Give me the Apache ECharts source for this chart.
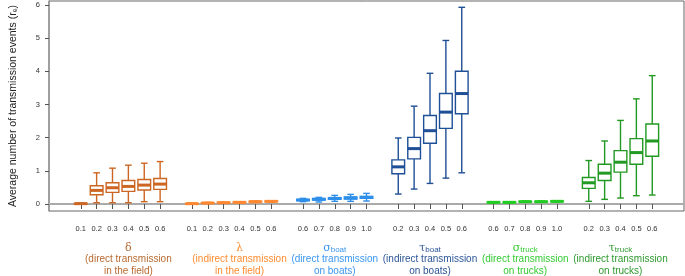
<!DOCTYPE html>
<html>
<head>
<meta charset="utf-8">
<script src="https://cdn.jsdelivr.net/npm/echarts@6/dist/echarts.min.js"></script>
<style>html,body{margin:0;padding:0;background:#fff}#c{width:685px;height:276px}</style>
</head>
<body>
<div id="c"></div>
<script>
// ---- data: [min, q1, median, q3, max] per level ----
const deltaLevels = ['0.1','0.2','0.3','0.4','0.5','0.6'];
const deltaStats = [
  [0.00,0.00,0.01,0.02,0.03],
  [0.04,0.28,0.41,0.55,0.94],
  [0.04,0.35,0.49,0.64,1.08],
  [0.04,0.38,0.53,0.71,1.17],
  [0.07,0.42,0.57,0.74,1.23],
  [0.07,0.44,0.60,0.77,1.28]
];
const lambdaLevels = ['0.1','0.2','0.3','0.4','0.5','0.6'];
const lambdaStats = [
  [0.00,0.00,0.01,0.02,0.03],
  [0.01,0.02,0.03,0.04,0.05],
  [0.02,0.03,0.04,0.05,0.06],
  [0.03,0.04,0.05,0.06,0.07],
  [0.04,0.06,0.07,0.08,0.09],
  [0.05,0.07,0.08,0.09,0.10]
];
const sigmaBoatLevels = ['0.6','0.7','0.8','0.9','1.0'];
const sigmaBoatStats = [
  [0.07,0.10,0.12,0.14,0.17],
  [0.06,0.12,0.14,0.17,0.20],
  [0.08,0.14,0.17,0.19,0.26],
  [0.08,0.15,0.18,0.21,0.29],
  [0.09,0.17,0.20,0.23,0.32]
];
const tauBoatLevels = ['0.2','0.3','0.4','0.5','0.6'];
const tauBoatStats = [
  [0.30,0.91,1.12,1.33,1.99],
  [0.45,1.36,1.67,2.01,2.95],
  [0.62,1.83,2.21,2.67,3.94],
  [0.78,2.28,2.77,3.33,4.93],
  [0.94,2.72,3.33,4.00,5.93]
];
const sigmaTruckLevels = ['0.6','0.7','0.8','0.9','1.0'];
const sigmaTruckStats = [
  [0.03,0.04,0.05,0.06,0.07],
  [0.03,0.04,0.05,0.06,0.07],
  [0.05,0.06,0.07,0.08,0.09],
  [0.05,0.06,0.07,0.08,0.09],
  [0.06,0.07,0.08,0.09,0.10]
];
const tauTruckLevels = ['0.2','0.3','0.4','0.5','0.6'];
const tauTruckStats = [
  [0.08,0.47,0.64,0.80,1.31],
  [0.14,0.71,0.93,1.20,1.90],
  [0.18,0.96,1.26,1.61,2.52],
  [0.25,1.20,1.55,1.97,3.17],
  [0.27,1.44,1.90,2.41,3.87]
];
const groupSymbols = ['δ','λ','σ','τ','σ','τ'];
const groupSubs = ['','','boat','boat','truck','truck'];
const groupDescs = [
  ['(direct transmission','in the field)'],
  ['(indirect transmission','in the field)'],
  ['(direct transmission','on boats)'],
  ['(indirect transmission','on boats)'],
  ['(direct transmission','on trucks)'],
  ['(indirect transmission','on trucks)']
];
const yTicks = [0,1,2,3,4,5,6];
const yTitle = 'Average number of transmission events (rₑ)';

// ---- styles ----
const boxColors = ['#CC6622','#FF8830','#2E8FEA','#1F4F96','#22CC22','#229922'];
const textColors = ['#B86A30','#FF8C30','#3A96F0','#2B5597','#33CC33','#2E9A2E'];

const groupLevels = [deltaLevels, lambdaLevels, sigmaBoatLevels, tauBoatLevels, sigmaTruckLevels, tauTruckLevels];
const groupStats = [deltaStats, lambdaStats, sigmaBoatStats, tauBoatStats, sigmaTruckStats, tauTruckStats];

// build category slots (blank slots around and between groups)
const categories = ['', ''];
const boxData = [];
const groupCenters = [];
groupLevels.forEach((lv, g) => {
  if (g > 0) categories.push('');
  const start = categories.length;
  lv.forEach((l, i) => {
    const idx = categories.length;
    categories.push(l);
    boxData.push([idx].concat(groupStats[g][i]).concat([g]));
  });
  groupCenters.push((start + categories.length - 1) / 2);
});
categories.push('', '');

const chart = echarts.init(document.getElementById('c'), null, {renderer: 'canvas'});

function renderItem(params, api) {
  const x = api.value(0);
  const g = api.value(6);
  const color = boxColors[g];
  const pMin = api.coord([x, api.value(1)]);
  const pQ1 = api.coord([x, api.value(2)]);
  const pMed = api.coord([x, api.value(3)]);
  const pQ3 = api.coord([x, api.value(4)]);
  const pMax = api.coord([x, api.value(5)]);
  const band = api.size([1, 0])[0];
  const bw = band * 0.8;
  const cw = band * 0.42;
  const cx = pMed[0];
  const lineStyle = {stroke: color, lineWidth: 1.4, fill: null};
  return {
    type: 'group',
    children: [
      {type: 'line', shape: {x1: cx, y1: pMax[1], x2: cx, y2: pQ3[1]}, style: lineStyle},
      {type: 'line', shape: {x1: cx, y1: pQ1[1], x2: cx, y2: pMin[1]}, style: lineStyle},
      {type: 'line', shape: {x1: cx - cw/2, y1: pMax[1], x2: cx + cw/2, y2: pMax[1]}, style: lineStyle},
      {type: 'line', shape: {x1: cx - cw/2, y1: pMin[1], x2: cx + cw/2, y2: pMin[1]}, style: lineStyle},
      {type: 'rect', shape: {x: cx - bw/2, y: pQ3[1], width: bw, height: pQ1[1] - pQ3[1]},
        style: {stroke: color, lineWidth: 1.4, fill: '#fff'}},
      {type: 'line', shape: {x1: cx - bw/2, y1: pMed[1], x2: cx + bw/2, y2: pMed[1]},
        style: {stroke: color, lineWidth: 3, fill: null}}
    ]
  };
}

const option = {
  animation: false,
  backgroundColor: '#fff',
  textStyle: {fontFamily: 'Liberation Sans, Arial, sans-serif'},
  grid: {left: 44, right: 1, top: 1, bottom: 65, show: true, borderColor: '#666', borderWidth: 1, containLabel: false},
  xAxis: {
    type: 'category',
    data: categories,
    boundaryGap: false,
    axisLine: {show: true, lineStyle: {color: '#aaa', width: 2}},
    axisTick: {show: true, length: 5, lineStyle: {color: '#555'},
      interval: (i, v) => v !== ''},
    axisLabel: {interval: (i, v) => v !== '', margin: 14, fontSize: 7.5, color: '#333'},
    splitLine: {show: false}
  },
  yAxis: {
    type: 'value',
    min: -0.211,
    max: 6.12,
    name: yTitle,
    nameLocation: 'middle',
    nameGap: 30,
    nameTextStyle: {fontSize: 10.5, color: '#222'},
    axisLine: {show: true, lineStyle: {color: '#999', width: 1.5}},
    axisTick: {show: true, length: 4, lineStyle: {color: '#555'}, customValues: yTicks},
    axisLabel: {fontSize: 7.5, color: '#333', margin: 9, customValues: yTicks},
    splitLine: {show: false}
  },
  series: [{
    type: 'custom',
    renderItem: renderItem,
    encode: {x: 0, y: [1, 2, 3, 4, 5]},
    data: boxData,
    clip: false
  }]
};
chart.setOption(option);

const graphics = groupCenters.map((c, g) => {
  const px = chart.convertToPixel({xAxisIndex: 0}, c);
  const head = groupSubs[g] ? '{g|' + groupSymbols[g] + '}{s|' + groupSubs[g] + '}' : '{g|' + groupSymbols[g] + '}';
  const col = textColors[g];
  return {
    type: 'text',
    x: px,
    y: 242,
    style: {
      text: head + '\n{d|' + groupDescs[g][0] + '}\n{d|' + groupDescs[g][1] + '}',
      align: 'center',
      verticalAlign: 'top',
      fill: col,
      fontFamily: 'Liberation Sans, Arial, sans-serif',
      rich: {
        g: {fontSize: 11, fill: col, lineHeight: 11.5, fontFamily: 'DejaVu Serif, serif'},
        s: {fontSize: 8, fill: col, lineHeight: 11.5, verticalAlign: 'bottom', padding: [4, 0, 0, 0]},
        d: {fontSize: 10, fill: col, lineHeight: 11.5}
      }
    }
  };
});
chart.setOption({graphic: graphics});
</script>
</body>
</html>
